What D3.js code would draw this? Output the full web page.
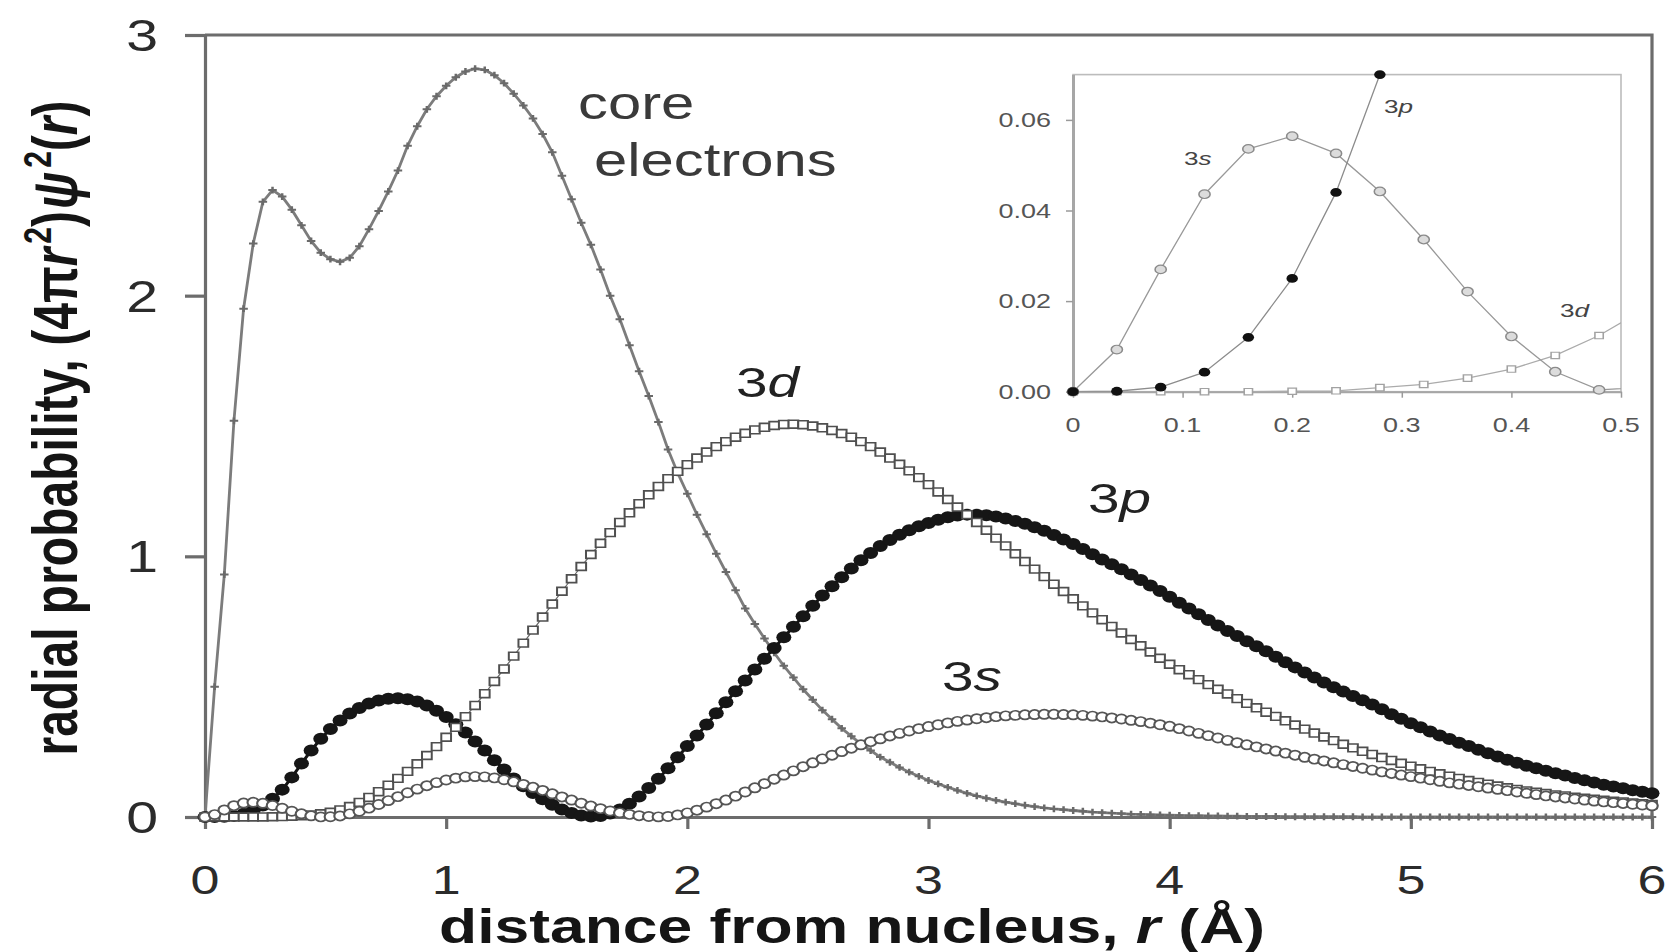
<!DOCTYPE html>
<html>
<head>
<meta charset="utf-8">
<script src="https://cdn.jsdelivr.net/npm/d3@7"></script>
<style>
  html, body { margin: 0; padding: 0; background: #fff; }
  svg { display: block; font-family: "Liberation Sans", Arial, Helvetica, sans-serif; }
</style>
</head>
<body>
<svg id="chart" width="1669" height="952"></svg>
<script>
// Radial probability 4πr²ψ²(r), sampled every 0.04 Å from 0 to 6 Å
const radiusStep = 0.04;
const radius = d3.range(151).map(i => +(i * radiusStep).toFixed(2));

const coreElectrons = [
  0, 0.50, 0.93, 1.52, 1.95, 2.20, 2.36, 2.405, 2.38, 2.33, 2.27, 2.21, 2.165, 2.14, 2.13, 2.145, 2.19, 2.255, 2.325, 2.40, 2.48, 2.575, 2.65, 2.715, 2.765,
  2.805, 2.838, 2.86, 2.871, 2.866, 2.846, 2.815, 2.775, 2.73, 2.68, 2.62, 2.55, 2.46, 2.37, 2.28, 2.195, 2.10, 2.00, 1.91, 1.81, 1.71, 1.615, 1.515, 1.41, 1.32,
  1.24, 1.16, 1.085, 1.01, 0.94, 0.87, 0.80, 0.74, 0.685, 0.63, 0.58, 0.535, 0.49, 0.45, 0.41, 0.375, 0.34, 0.31, 0.28, 0.255, 0.23, 0.21, 0.19, 0.172, 0.156,
  0.14, 0.127, 0.114, 0.102, 0.091, 0.081, 0.072, 0.064, 0.057, 0.051, 0.045, 0.040, 0.035, 0.031, 0.028, 0.025, 0.022, 0.019, 0.017, 0.015, 0.013, 0.011, 0.010, 0.009, 0.008,
  0.007, 0.006, 0.005, 0.005, 0.004, 0.004, 0.003, 0.003, 0.002, 0.002, 0.002, 0.002, 0.001, 0.001, 0.001, 0.001, 0.001, 0.001, 0.001, 0.001, 0, 0, 0, 0, 0,
  0, 0, 0, 0, 0, 0, 0, 0, 0, 0, 0, 0, 0, 0, 0, 0, 0, 0, 0, 0, 0, 0, 0, 0, 0,
  0
];

const orbital3s = [
  0, 0.0093, 0.027, 0.0436, 0.0536, 0.0564, 0.0526, 0.0442, 0.0336, 0.0221, 0.0122, 0.0044, 0.0004, 0.001, 0.004, 0.012, 0.022, 0.034, 0.048, 0.063, 0.078, 0.093, 0.107, 0.12, 0.132,
  0.142, 0.149, 0.154, 0.155, 0.154, 0.15, 0.143, 0.135, 0.125, 0.114, 0.102, 0.089, 0.077, 0.065, 0.053, 0.042, 0.032, 0.023, 0.016, 0.01, 0.005, 0.002, 0.0005, 0.002, 0.008,
  0.016, 0.026, 0.038, 0.051, 0.065, 0.08, 0.096, 0.112, 0.128, 0.145, 0.161, 0.177, 0.193, 0.208, 0.223, 0.237, 0.251, 0.264, 0.277, 0.289, 0.3, 0.311, 0.321, 0.33, 0.339,
  0.347, 0.354, 0.361, 0.367, 0.372, 0.377, 0.381, 0.385, 0.388, 0.39, 0.392, 0.393, 0.394, 0.394, 0.393, 0.392, 0.39, 0.387, 0.384, 0.38, 0.376, 0.371, 0.366, 0.36, 0.354,
  0.348, 0.339, 0.33, 0.321, 0.312, 0.303, 0.294, 0.285, 0.277, 0.269, 0.261, 0.253, 0.245, 0.237, 0.229, 0.222, 0.215, 0.208, 0.201, 0.194, 0.187, 0.18, 0.173, 0.167, 0.161,
  0.155, 0.149, 0.143, 0.137, 0.131, 0.126, 0.121, 0.116, 0.111, 0.106, 0.101, 0.096, 0.091, 0.086, 0.081, 0.077, 0.073, 0.069, 0.065, 0.061, 0.058, 0.055, 0.052, 0.049, 0.046,
  0.043
];

const orbital3p = [
  0, 0.0001, 0.001, 0.0043, 0.012, 0.025, 0.044, 0.07, 0.105, 0.152, 0.205, 0.255, 0.30, 0.338, 0.37, 0.397, 0.418, 0.435, 0.447, 0.454, 0.456, 0.452, 0.443, 0.428, 0.408,
  0.384, 0.356, 0.324, 0.29, 0.255, 0.218, 0.182, 0.148, 0.118, 0.092, 0.068, 0.047, 0.029, 0.015, 0.006, 0.002, 0.004, 0.013, 0.029, 0.051, 0.079, 0.111, 0.147, 0.187, 0.229,
  0.272, 0.313, 0.355, 0.398, 0.44, 0.482, 0.524, 0.566, 0.607, 0.648, 0.69, 0.73, 0.77, 0.81, 0.85, 0.885, 0.92, 0.953, 0.985, 1.013, 1.04, 1.063, 1.083, 1.10, 1.115,
  1.128, 1.14, 1.15, 1.157, 1.16, 1.16, 1.158, 1.153, 1.145, 1.136, 1.125, 1.112, 1.098, 1.082, 1.065, 1.047, 1.028, 1.008, 0.988, 0.97, 0.95, 0.93, 0.909, 0.888, 0.867,
  0.845, 0.822, 0.80, 0.778, 0.756, 0.735, 0.714, 0.694, 0.674, 0.655, 0.636, 0.615, 0.594, 0.574, 0.554, 0.535, 0.516, 0.498, 0.481, 0.464, 0.448, 0.432, 0.413, 0.394, 0.377,
  0.36, 0.344, 0.328, 0.313, 0.299, 0.285, 0.272, 0.258, 0.245, 0.232, 0.22, 0.208, 0.197, 0.187, 0.177, 0.168, 0.159, 0.15, 0.141, 0.132, 0.124, 0.117, 0.11, 0.103, 0.097,
  0.091
];

const orbital3d = [
  0, 0, 0, 0, 0, 0.0001, 0.0002, 0.0009, 0.0016, 0.003, 0.005, 0.008, 0.0124, 0.018, 0.027, 0.04, 0.056, 0.075, 0.097, 0.122, 0.148, 0.175, 0.204, 0.236, 0.27,
  0.306, 0.344, 0.385, 0.428, 0.473, 0.52, 0.568, 0.617, 0.667, 0.717, 0.767, 0.817, 0.866, 0.914, 0.961, 1.007, 1.05, 1.091, 1.13, 1.167, 1.202, 1.236, 1.268, 1.298, 1.326,
  1.352, 1.377, 1.40, 1.421, 1.44, 1.457, 1.472, 1.485, 1.495, 1.502, 1.506, 1.507, 1.505, 1.5, 1.493, 1.483, 1.471, 1.457, 1.44, 1.421, 1.4, 1.377, 1.353, 1.328, 1.302,
  1.275, 1.247, 1.218, 1.189, 1.16, 1.13, 1.1, 1.07, 1.04, 1.01, 0.98, 0.951, 0.922, 0.893, 0.865, 0.837, 0.81, 0.783, 0.757, 0.731, 0.706, 0.681, 0.657, 0.633, 0.609,
  0.586, 0.565, 0.546, 0.527, 0.508, 0.49, 0.472, 0.454, 0.436, 0.419, 0.402, 0.386, 0.369, 0.353, 0.337, 0.322, 0.307, 0.293, 0.279, 0.265, 0.252, 0.24, 0.228, 0.217, 0.206,
  0.195, 0.185, 0.175, 0.166, 0.157, 0.148, 0.14, 0.133, 0.126, 0.119, 0.112, 0.106, 0.1, 0.095, 0.09, 0.085, 0.081, 0.076, 0.072, 0.068, 0.064, 0.061, 0.058, 0.054, 0.051,
  0.048
];

const mainTicksX = [0, 1, 2, 3, 4, 5, 6];
const mainTicksY = [0, 1, 2, 3];
const insetTicksX = [0, 0.1, 0.2, 0.3, 0.4, 0.5];
const insetTicksY = [0, 0.02, 0.04, 0.06];

const toPoints = vals => radius.map((r, i) => ({ r, v: vals[i] }));

const svg = d3.select("#chart");
const TEXT_SX = 1.3;   // glyphs are drawn a little wide
const MARK_SX = 1.25;  // markers likewise

function addText(parent, x, y, parts, o) {
  const tf = `translate(${x},${y}) scale(${o.sx || TEXT_SX},1)` + (o.rotate ? ` rotate(${o.rotate})` : "");
  const t = parent.append("text")
    .attr("transform", tf)
    .attr("text-anchor", o.anchor || "start")
    .attr("font-size", o.size)
    .attr("font-weight", o.weight || "normal")
    .attr("fill", o.fill || "#222");
  const list = typeof parts === "string" ? [{ t: parts }] : parts;
  list.forEach(p => {
    const s = t.append("tspan").text(p.t);
    if (p.italic) s.attr("font-style", "italic");
    if (p.size) s.attr("font-size", p.size);
    if (p.dy) s.attr("dy", p.dy);
    if (p.dx) s.attr("dx", p.dx);
  });
  return t;
}

// ---------- main panel ----------
const x = d3.scaleLinear().domain([0, 6]).range([205, 1652]);
const y = d3.scaleLinear().domain([0, 3]).range([817, 35]);
const axisColor = "#6c6c6c";

const main = svg.append("g");

// frame top / right
main.append("path")
  .attr("d", `M${x(0)},${y(3)}H${x(6)}V${y(0)}`)
  .attr("fill", "none").attr("stroke", axisColor).attr("stroke-width", 3.2);

const gy = main.append("g").attr("transform", `translate(${x(0)},0)`)
  .call(d3.axisLeft(y).tickValues(mainTicksY).tickSize(20).tickSizeOuter(0).tickFormat(""));
const gx = main.append("g").attr("transform", `translate(0,${y(0)})`)
  .call(d3.axisBottom(x).tickValues(mainTicksX).tickSize(12).tickSizeOuter(0).tickFormat(""));
[gy, gx].forEach(g => {
  g.selectAll("path,line").attr("stroke", axisColor).attr("stroke-width", 3.2);
});

mainTicksY.forEach(v => addText(main, 158, y(v) + 16, String(v), { size: 44, anchor: "end", fill: "#2b2b2b" }));
mainTicksX.forEach(v => addText(main, x(v), 894, String(v), { size: 40, anchor: "middle", fill: "#2b2b2b" }));

addText(main, 852, 943, [
  { t: "distance from nucleus, " },
  { t: "r", italic: true },
  { t: "(Å)", dx: 14 }
], { size: 48, weight: "bold", anchor: "middle", fill: "#151515" });

addText(main, 77, 428, [
  { t: "radial probability, (4π" },
  { t: "r", italic: true },
  { t: "2", size: 30, dy: -20, dx: 4 },
  { t: ")", dy: 20 },
  { t: "ψ", italic: true, dx: 2 },
  { t: "2", size: 30, dy: -20, dx: 4 },
  { t: "(", dy: 20 },
  { t: "r", italic: true },
  { t: ")" }
], { size: 48, weight: "bold", anchor: "middle", fill: "#151515", rotate: -90 });

const symCircle = r => d3.symbol().type(d3.symbolCircle).size(Math.PI * r * r)();
const symSquare = s => d3.symbol().type(d3.symbolSquare).size(s * s)();
const symPlus = h => `M${-h},0H${h}M0,${-h}V${h}`;

function drawSeries(g, pts, xs, ys, st) {
  g.append("path").datum(pts)
    .attr("d", d3.line().x(d => xs(d.r)).y(d => ys(d.v)))
    .attr("fill", "none").attr("stroke", st.line).attr("stroke-width", st.lineWidth);
  g.selectAll(null).data(pts).join("path")
    .attr("transform", d => `translate(${xs(d.r)},${ys(d.v)}) scale(${MARK_SX},1)`)
    .attr("d", st.shape)
    .attr("fill", st.fill)
    .attr("stroke", st.stroke || "none")
    .attr("stroke-width", st.strokeWidth || 0);
}

const series = main.append("g");
drawSeries(series, toPoints(coreElectrons), x, y, {
  line: "#7c7c7c", lineWidth: 2.8, shape: symPlus(3.4), fill: "none", stroke: "#6a6a6a", strokeWidth: 2
});
drawSeries(series, toPoints(orbital3p), x, y, {
  line: "#141414", lineWidth: 3, shape: symCircle(6), fill: "#161616"
});
drawSeries(series, toPoints(orbital3d), x, y, {
  line: "#666", lineWidth: 1.2, shape: symSquare(7.8), fill: "#fff", stroke: "#4f4f4f", strokeWidth: 1.6
});
drawSeries(series, toPoints(orbital3s), x, y, {
  line: "#666", lineWidth: 1.2, shape: symCircle(4.6), fill: "#fff", stroke: "#555", strokeWidth: 1.7
});

// curve labels
addText(main, 578, 119, "core", { size: 46, fill: "#3a3a3a" });
addText(main, 594, 176, "electrons", { size: 46, fill: "#3a3a3a" });
addText(main, 736, 397, [{ t: "3" }, { t: "d", italic: true }], { size: 42, sx: 1.35, fill: "#222" });
addText(main, 1088, 513, [{ t: "3" }, { t: "p", italic: true }], { size: 42, sx: 1.35, fill: "#222" });
addText(main, 942, 691, [{ t: "3" }, { t: "s", italic: true }], { size: 42, sx: 1.35, fill: "#222" });

// ---------- inset: close-up near the nucleus ----------
const xi = d3.scaleLinear().domain([0, 0.5]).range([1073, 1621]);
const yi = d3.scaleLinear().domain([0, 0.07]).range([391.7, 74.6]);
const inset = svg.append("g");

inset.append("rect")
  .attr("x", xi(0)).attr("y", yi(0.07))
  .attr("width", xi(0.5) - xi(0)).attr("height", yi(0) - yi(0.07))
  .attr("fill", "#fff").attr("stroke", "#bcbcbc").attr("stroke-width", 1.6);

const giy = inset.append("g").attr("transform", `translate(${xi(0)},0)`)
  .call(d3.axisLeft(yi).tickValues(insetTicksY).tickSize(7).tickSizeOuter(0).tickFormat(""));
const gix = inset.append("g").attr("transform", `translate(0,${yi(0)})`)
  .call(d3.axisBottom(xi).tickValues(insetTicksX).tickSize(6).tickSizeOuter(0).tickFormat(""));
giy.selectAll("path").attr("stroke", "#a6a6a6").attr("stroke-width", 3);
giy.selectAll("line").attr("stroke", "#9a9a9a").attr("stroke-width", 1.5);
gix.selectAll("path").attr("stroke", "#a6a6a6").attr("stroke-width", 2);
gix.selectAll("line").attr("stroke", "#9a9a9a").attr("stroke-width", 1.5);

insetTicksY.forEach(v => addText(inset, 1051, yi(v) + 7, d3.format(".2f")(v), { size: 20, anchor: "end", fill: "#555", sx: 1.35 }));
insetTicksX.forEach(v => addText(inset, xi(v), 432, v === 0 ? "0" : d3.format(".1f")(v), { size: 20, anchor: "middle", fill: "#555", sx: 1.35 }));

svg.append("clipPath").attr("id", "insetClip")
  .append("rect")
  .attr("x", xi(0)).attr("y", yi(0.07))
  .attr("width", xi(0.5) - xi(0)).attr("height", yi(0) - yi(0.07));

const near = vals => toPoints(vals).filter(d => d.r <= 0.52);
const inDomain = d => d.r <= 0.5 && d.v <= 0.0705;

function drawInsetSeries(vals, st) {
  const g = inset.append("g");
  g.append("path").datum(near(vals))
    .attr("clip-path", "url(#insetClip)")
    .attr("d", d3.line().x(d => xi(d.r)).y(d => yi(d.v)))
    .attr("fill", "none").attr("stroke", st.line).attr("stroke-width", 1.3);
  g.selectAll(null).data(near(vals).filter(inDomain)).join("path")
    .attr("transform", d => `translate(${xi(d.r)},${yi(d.v)}) scale(1.3,1)`)
    .attr("d", st.shape)
    .attr("fill", st.fill)
    .attr("stroke", st.stroke || "none")
    .attr("stroke-width", st.strokeWidth || 0);
}

drawInsetSeries(orbital3d, { line: "#ababab", shape: symSquare(6.4), fill: "#fff", stroke: "#a2a2a2", strokeWidth: 1.2 });
drawInsetSeries(orbital3s, { line: "#999", shape: symCircle(4.3), fill: "#dcdcdc", stroke: "#8a8a8a", strokeWidth: 1.2 });
drawInsetSeries(orbital3p, { line: "#8c8c8c", shape: symCircle(4.4), fill: "#111" });

addText(inset, 1184, 165, [{ t: "3" }, { t: "s", italic: true }], { size: 18, sx: 1.45, fill: "#444" });
addText(inset, 1384, 113, [{ t: "3" }, { t: "p", italic: true }], { size: 18, sx: 1.45, fill: "#444" });
addText(inset, 1560, 317, [{ t: "3" }, { t: "d", italic: true }], { size: 18, sx: 1.45, fill: "#444" });
</script>
</body>
</html>
